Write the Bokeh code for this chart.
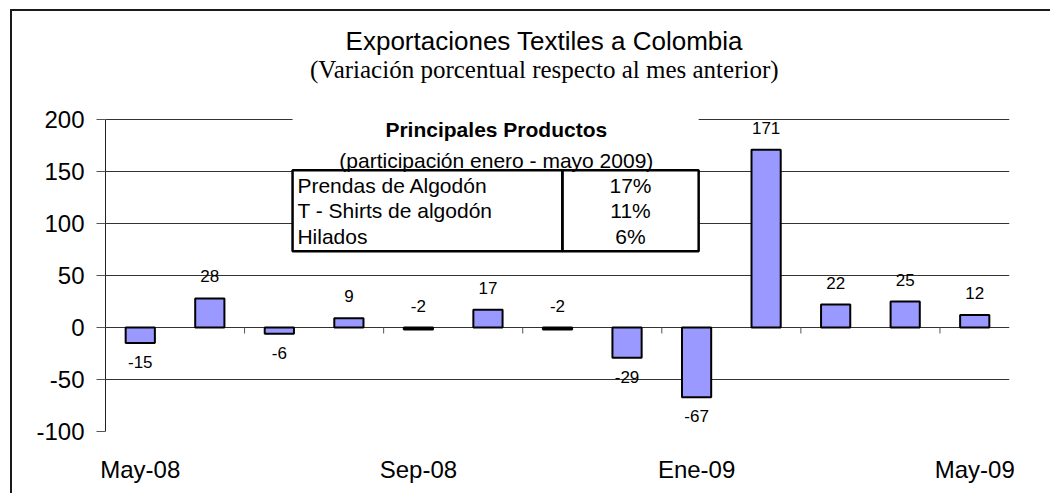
from bokeh.plotting import figure
from bokeh.models import Range1d, FixedTicker, Label, BoxAnnotation, ColumnDataSource
from bokeh.core.properties import value
from bokeh.embed import file_html
from bokeh.resources import INLINE

# ---- data ----
months = ["May-08", "Jun-08", "Jul-08", "Ago-08", "Sep-08", "Oct-08", "Nov-08",
          "Dic-08", "Ene-09", "Feb-09", "Mar-09", "Abr-09", "May-09"]
variation = [-15, 28, -6, 9, -2, 17, -2, -29, -67, 171, 22, 25, 12]
y_ticks = [-100, -50, 0, 50, 100, 150, 200]
label_every = 4

products = ["Prendas de Algodón", "T - Shirts de algodón", "Hilados"]
shares = ["17%", "11%", "6%"]

title_text = "Exportaciones Textiles a Colombia"
subtitle_text = "(Variación porcentual respecto al mes anterior)"
table_title = "Principales Productos"
table_subtitle = "(participación enero - mayo 2009)"

SANS = "Liberation Sans"
SERIF = "Liberation Serif"

n = len(months)
xs = [i + 0.5 for i in range(n)]
above = [v > -5 for v in variation]
label_y = [max(v, 0) if a else v for v, a in zip(variation, above)]
label_off = [-22 if a else 19 for a in above]

src = ColumnDataSource(dict(x=xs, top=variation, label_y=label_y,
                            label_off=label_off,
                            label_text=[str(v) for v in variation]))

# frame extends up over the title area; the axis itself is bounded to -100..200
p = figure(width=1040, height=484,
           x_range=Range1d(0, n), y_range=Range1d(min(y_ticks), 300),
           output_backend="svg", toolbar_location=None,
           min_border_left=93, min_border_right=43,
           min_border_top=4, min_border_bottom=64)
p.outline_line_color = None
p.background_fill_color = "white"
p.border_fill_color = "white"
p.styles = {"margin-left": "10px", "margin-top": "9px",
            "border-left": "2px solid #1a1a1a", "border-top": "2px solid #1a1a1a"}

# grid
p.xgrid.grid_line_color = None
p.ygrid.grid_line_color = "#333333"
p.ygrid.grid_line_width = 1

# y axis
p.yaxis.ticker = FixedTicker(ticks=y_ticks)
p.yaxis.bounds = (min(y_ticks), max(y_ticks))
p.yaxis.major_label_overrides = {t: str(t) for t in y_ticks}
p.yaxis.axis_line_color = "#222222"
p.yaxis.major_tick_line_color = "#555555"
p.yaxis.major_tick_out = 9
p.yaxis.major_tick_in = 0
p.yaxis.minor_tick_line_color = None
p.yaxis.major_label_standoff = 12
p.yaxis.major_label_text_font = SANS
p.yaxis.major_label_text_font_size = "24px"
p.yaxis.major_label_text_color = "black"

# x axis (labels only)
lab_idx = list(range(0, n, label_every))
p.xaxis.ticker = FixedTicker(ticks=[i + 0.5 for i in lab_idx])
p.xaxis.major_label_overrides = {i + 0.5: months[i] for i in lab_idx}
p.xaxis.axis_line_color = None
p.xaxis.major_tick_line_color = None
p.xaxis.minor_tick_line_color = None
p.xaxis.major_tick_out = 0
p.xaxis.major_tick_in = 0
p.xaxis.major_label_standoff = 24
p.xaxis.major_label_text_font = SANS
p.xaxis.major_label_text_font_size = "24px"
p.xaxis.major_label_text_color = "black"

# category tick marks on the zero line (every 2 categories)
bounds = list(range(2, n, 2))
p.segment(x0=bounds, x1=bounds, y0=[0] * len(bounds), y1=[-6 / 1.04] * len(bounds),
          line_color="#555555", line_width=1)

# bars
p.vbar(x="x", top="top", bottom=0, width=0.42, source=src,
       fill_color="#9999FF", line_color="black", line_width=2)

# value labels
p.text(x="x", y="label_y", text="label_text", y_offset="label_off", source=src,
       text_align="center", text_baseline="middle",
       text_font=value(SANS), text_font_size="17px", text_color="black")

# titles
p.add_layout(Label(x=6.31, y=275.3, text=title_text, text_align="center",
                   text_baseline="middle", text_font=SANS, text_font_size="26px",
                   text_color="black"))
p.add_layout(Label(x=6.31, y=247.9, text=subtitle_text, text_align="center",
                   text_baseline="middle", text_font=SERIF, text_font_size="25px",
                   text_color="black"))

# inset table
t_left, t_div, t_right = 2.69, 6.57, 8.53
t_top, t_bottom = 151.2, 73.3
p.add_layout(BoxAnnotation(left=t_left, right=t_right, top=215, bottom=t_bottom,
                           fill_color="white", fill_alpha=1, line_color=None))
for l, r in [(t_left, t_div), (t_div, t_right)]:
    p.add_layout(BoxAnnotation(left=l, right=r, top=t_top, bottom=t_bottom,
                               fill_alpha=0, line_color="black", line_alpha=1,
                               line_width=2.5))
p.add_layout(Label(x=5.62, y=190.7, text=table_title, text_align="center",
                   text_baseline="middle", text_font=SANS, text_font_size="21px",
                   text_font_style="bold", text_color="black"))
p.add_layout(Label(x=5.62, y=160.4, text=table_subtitle, text_align="center",
                   text_baseline="middle", text_font=SANS, text_font_size="21px",
                   text_color="black"))
row_y = [136.8, 112.3, 87.3]
for name, share, ry in zip(products, shares, row_y):
    p.add_layout(Label(x=2.76, y=ry, text=name, text_align="left",
                       text_baseline="middle", text_font=SANS, text_font_size="21px",
                       text_color="black"))
    p.add_layout(Label(x=(t_div + t_right) / 2, y=ry, text=share, text_align="center",
                       text_baseline="middle", text_font=SANS, text_font_size="21px",
                       text_color="black"))

open("out.html", "w").write(file_html(p, INLINE))
